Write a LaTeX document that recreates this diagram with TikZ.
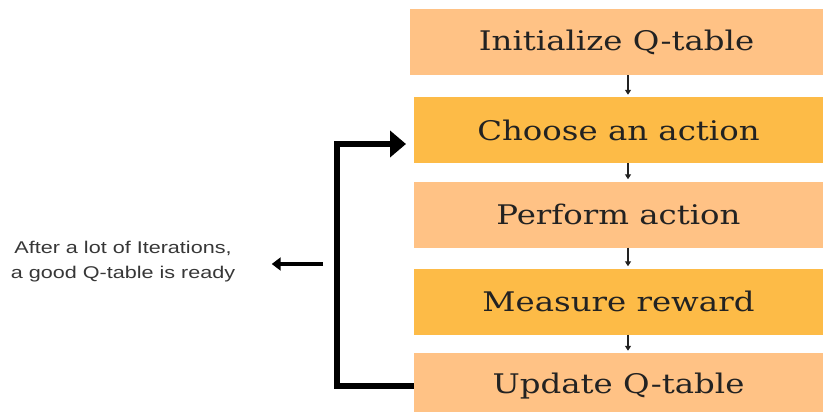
\documentclass[tikz,border=0pt]{standalone}
\usepackage{fontspec}
\usepackage{graphicx}
\usepackage{tikz}
\usetikzlibrary{arrows.meta}

\newfontfamily\boxfont{DejaVu Serif}
\newfontfamily\notefont{Liberation Sans}
\newcommand{\wide}[1]{\scalebox{1.2}[1]{#1}}
\definecolor{peach}{RGB}{255,194,133}
\definecolor{amber}{RGB}{253,187,71}
\definecolor{ink}{RGB}{34,34,34}
\definecolor{note}{RGB}{55,55,55}

\begin{document}
\begin{tikzpicture}[x=1pt,y=-1pt]
                \useasboundingbox (0,0) rectangle (823,412);

                \begin{scope}[every node/.style={rectangle,minimum height=66pt,inner sep=0pt,text=ink,font=\boxfont\fontsize{27}{32}\selectfont}]
                \node[fill=peach,minimum width=413pt] (init) at (616.5,42) {\wide{Initialize Q-table}};
                \node[fill=amber,minimum width=409pt] (choose) at (618.5,130) {\wide{Choose an action}};
                \node[fill=peach,minimum width=409pt] (perform) at (618.5,214.5) {\wide{Perform action}};
                \node[fill=amber,minimum width=409pt] (measure) at (618.5,301.5) {\wide{Measure reward}};
                \node[fill=peach,minimum width=409pt] (update) at (618.5,386) {\wide{Update Q-table}};
                \end{scope}

                \node[align=center,text=note,font=\notefont\fontsize{17}{25}\selectfont] (done) at (123,262)
                {\scalebox{1.27}[1]{After a lot of Iterations,}\\\scalebox{1.27}[1]{a good Q-table is ready}};

                \coordinate (stem) at (628,0);
                \coordinate (rail) at (337,0);
                \coordinate (entry) at (406,144);
                \coordinate (exit) at (323,264);

                \path[every edge/.style={draw,ink,line width=1.4pt,shorten >=2pt,-{Triangle[length=5pt,width=6pt]}}]
                (init.south -| stem) edge (choose.north -| stem)
                (choose.south -| stem) edge (perform.north -| stem)
                (perform.south -| stem) edge (measure.north -| stem)
                (measure.south -| stem) edge (update.north -| stem);

                \draw[line width=6.5pt,-{Triangle[length=16pt,width=26pt]}]
                (update.west) -| (rail |- entry) -- (entry);
                \draw[line width=3.5pt,-{Triangle[length=9pt,width=13pt]}]
                (exit) -- ([xshift=33pt]exit -| done.east);
\end{tikzpicture}
\end{document}
